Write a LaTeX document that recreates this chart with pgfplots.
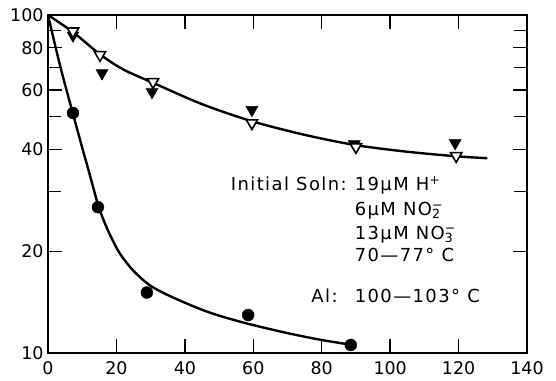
\documentclass[border=0pt]{standalone}
\usepackage{pgfplots}
\pgfplotsset{compat=1.18}
\usepackage{fontspec}
\setmainfont{DejaVu Sans}
\newfontfamily\annot[LetterSpace=8]{DejaVu Sans}
\begin{document}
\begin{tikzpicture}
\begin{axis}[
  name=ax,
  scale only axis,
  width=479bp, height=338bp,
  xmin=0, xmax=140,
  ymode=log, ymin=10, ymax=100,
  xtick={0,20,40,60,80,100,120,140},
  xticklabels={0,20,40,60,80,100,120,140},
  ytick={10,20,40,60,80,100},
  yticklabels={10,20,40,60,80,100},
  minor ytick={30,50,70,90},
  tick align=inside,
  major tick length=14bp,
  minor tick length=13bp,
  axis line style={line width=1.6bp},
  every tick/.style={black, line width=1.3bp},
  ticklabel style={font=\fontsize{17.5}{17.5}\selectfont},
  xticklabel style={yshift=-5bp},
  yticklabel style={xshift=-1bp},
  clip=false,
]
\coordinate (SW) at (rel axis cs:0,0);
% upper curve
\addplot[black, line width=2.4bp, smooth, tension=0.5] coordinates {
 (0,100) (7.3,89) (15.2,76.5) (22,69) (30.7,63) (45,54.5) (59.6,48.5)
 (75,44.2) (90,41.2) (105,39.4) (119.3,38.2) (128.4,37.7)};
% Al curve
\addplot[black, line width=2.4bp, smooth, tension=0.5] coordinates {
 (0,100) (3.5,71) (7.3,51) (10,40.5) (12,34.3) (14.6,27.5) (16,25.1) (18,22.5)
 (21,19.7) (25,17.5) (30,15.8) (36.5,14.6) (44.4,13.5) (50,12.9) (58.5,12.2)
 (70,11.45) (79.5,10.95) (88,10.6)};
% filled triangles
\addplot[only marks, mark=triangle*, mark size=7, mark options={rotate=180, fill=black, draw=black}] coordinates {
 (7.3,87) (15.8,67.3) (30.4,59.2) (59.6,52.4) (89.5,41.5) (119,41.8)};
% open triangles
\addplot[only marks, mark=triangle*, mark size=6.5, mark options={rotate=180, fill=white, draw=black, line width=1.6bp}] coordinates {
 (7.3,89.5) (15.2,76.2) (30.7,63.4) (59.6,47.9) (90,40.7) (119.3,38.3)};
% circles
\addplot[only marks, mark=*, mark size=6, mark options={fill=black, draw=black}] coordinates {
 (7.3,51.3) (14.6,27.0) (28.9,15.1) (58.5,12.95) (88.5,10.56)};
\begin{scope}[every node/.style={font=\annot\fontsize{18}{18}\selectfont, inner sep=0pt}]
\node[anchor=base east] at (rel axis cs:0.624,0.480) {Initial Soln:};
\node[anchor=base west] at (rel axis cs:0.640,0.480) {19μM H\textsuperscript{+}};
\node[anchor=base west] at (rel axis cs:0.640,0.407) {6μM NO\rlap{\textsuperscript{−}}\textsubscript{2}};
\node[anchor=base west] at (rel axis cs:0.640,0.337) {13μM NO\rlap{\textsuperscript{−}}\textsubscript{3}};
\node[anchor=base west] at (rel axis cs:0.640,0.270) {70—77° C};
\node[anchor=base east] at (rel axis cs:0.605,0.149) {Al:};
\node[anchor=base west] at (rel axis cs:0.640,0.149) {100—103° C};
\end{scope}
\end{axis}
\pgfresetboundingbox
\useasboundingbox (SW) ++(-48bp,-28bp) rectangle ++(556bp,381bp);
\end{tikzpicture}
\end{document}
